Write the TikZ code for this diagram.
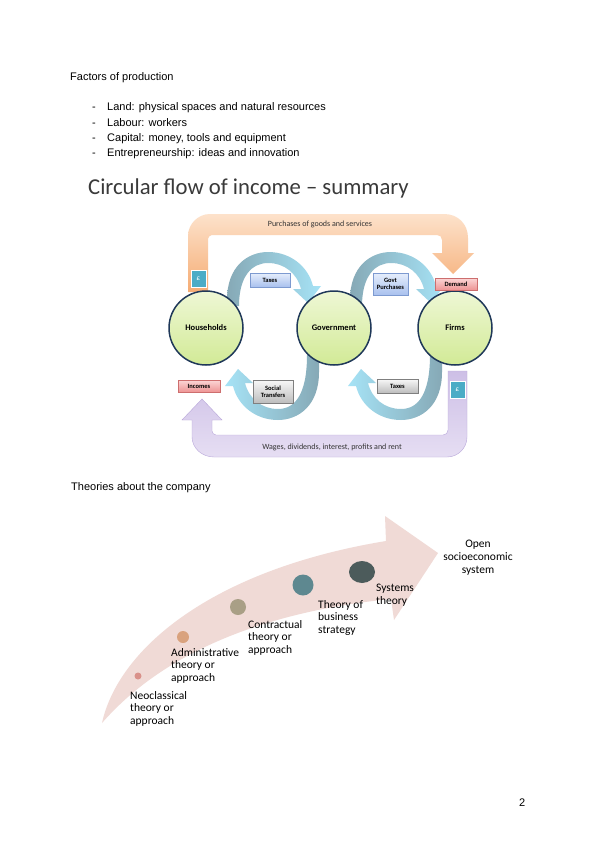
\documentclass[tikz,border=0pt]{standalone}
\usepackage{fontspec}
\setmainfont{Liberation Sans}
\newfontfamily\carl{Carlito}
\usetikzlibrary{shapes.geometric}
\definecolor{navy}{HTML}{1F3859}
\definecolor{circtop}{HTML}{EEF7D5}
\definecolor{circbot}{HTML}{D2EA96}
\definecolor{orangetop}{HTML}{FDE2CB}
\definecolor{orangebot}{HTML}{F5AC74}
\definecolor{purpletop}{HTML}{CDBFE6}
\definecolor{purplebot}{HTML}{E6DEF3}
\definecolor{purpleline}{HTML}{B9A8DA}
\definecolor{arcgray}{HTML}{86A9B6}
\definecolor{arccyan}{HTML}{A6E3F6}
\definecolor{bluetop}{HTML}{E6EEFC}
\definecolor{bluebot}{HTML}{A9C1EE}
\definecolor{blueline}{HTML}{7D9AD0}
\definecolor{pinktop}{HTML}{FBD6D6}
\definecolor{pinkbot}{HTML}{EE9494}
\definecolor{pinkline}{HTML}{CD6E6E}
\definecolor{graytop}{HTML}{F8F8F8}
\definecolor{graybot}{HTML}{BDBDBD}
\definecolor{grayline}{HTML}{7F7F7F}
\definecolor{poundteal}{HTML}{4BACC6}
\definecolor{risearrow}{HTML}{F0DAD6}
\definecolor{dotA}{HTML}{D9918A}
\definecolor{dotB}{HTML}{D9A27E}
\definecolor{dotC}{HTML}{A99F86}
\definecolor{dotD}{HTML}{5E8890}
\definecolor{dotE}{HTML}{4C5B5B}
\definecolor{titlegray}{HTML}{3A3A3A}
\definecolor{labeltext}{HTML}{333333}
\tikzset{
  flowarcup/.pic={\shade[left color=arcgray, right color=arccyan] (227,306) -- (227,300) .. controls (227,266) and (248,252) .. (268,252) .. controls (290,252) and (308,266) .. (313,286) -- (321,286) -- (308,303) -- (293,289) -- (301,289) .. controls (297,273) and (284,263) .. (268,263) .. controls (252,263) and (239,276) .. (239,306) -- cycle;},
  flowarcdown/.pic={\shade[left color=arccyan, right color=arcgray] (319,355) -- (319,372) .. controls (319,406) and (298,420) .. (278,420) .. controls (256,420) and (238,406) .. (233,386) -- (225,386) -- (238,369) -- (253,383) -- (245,383) .. controls (249,399) and (262,409) .. (278,409) .. controls (294,409) and (307,396) .. (307,355) -- cycle;}
}
\begin{document}
\begin{tikzpicture}[x=1pt,y=-1pt,
  doc/.style={font=\fontsize{11}{13}\selectfont, anchor=base west, inner sep=0},
  econ/.style={circle, minimum size=74, inner sep=0, draw=navy, line width=1.5, top color=circtop, bottom color=circbot, font=\carl\bfseries\fontsize{8.5}{10}\selectfont},
  flowtag/.style={line width=0.5, inner sep=0, align=center, font=\carl\bfseries\fontsize{6.5}{7.5}\selectfont},
  bluetag/.style={flowtag, top color=bluetop, bottom color=bluebot, draw=blueline},
  pinktag/.style={flowtag, top color=pinktop, bottom color=pinkbot, draw=pinkline},
  graytag/.style={flowtag, top color=graytop, bottom color=graybot, draw=grayline},
  pound/.style={fill=poundteal, draw=white, line width=0.8, text=white, inner sep=0, minimum width=15, minimum height=17, font=\carl\fontsize{7}{8}\selectfont},
  flowlabel/.style={font=\carl\fontsize{8}{9}\selectfont, text=labeltext, inner sep=0},
  theory/.style={font=\carl\fontsize{11.5}{12.8}\selectfont, align=left, anchor=north west, inner sep=0},
  dot/.style={ellipse, inner sep=0}
]
\fill[white] (0,0) rectangle (600,848);
\useasboundingbox (0,0) rectangle (600,848);

% text block
\node[doc] (fac) at (70,81) {Factors of production};
\node[doc] (b1) at (92,111) {-};
\node[doc] (t1) at (107,111) {Land: physical spaces and natural resources};
\node[doc] (b2) at (92,126) {-};
\node[doc] (t2) at (107,126) {Labour: workers};
\node[doc] (b3) at (92,141) {-};
\node[doc] (t3) at (107,141) {Capital: money, tools and equipment};
\node[doc] (b4) at (92,156) {-};
\node[doc] (t4) at (107,156) {Entrepreneurship: ideas and innovation};

\node[anchor=base west, inner sep=0, font=\carl\fontsize{22.7}{26}\selectfont, text=titlegray] (title) at (88,194) {Circular flow of income – summary};

% orange arrow (purchases)
\shade[top color=orangetop, bottom color=orangebot] (188,292) -- (188,236) .. controls (188,224) and (198,214) .. (210,214) -- (444,214) .. controls (458,214) and (468,224) .. (468,238) -- (468,253) -- (474,253) -- (453,274) -- (432,253) -- (442,253) -- (442,240) .. controls (442,237) and (440,235) .. (437,235) -- (212,235) .. controls (210,235) and (208,237) .. (208,239) -- (208,292) -- cycle;
\node[flowlabel] (purch) at (320,224) {Purchases of goods and services};

% purple arrow (wages)
\shade[top color=purpletop, bottom color=purplebot, draw=purpleline, line width=0.4] (448,371) -- (467,371) -- (467,437) .. controls (467,448) and (458,457) .. (447,457) -- (214,457) .. controls (202,457) and (192,448) .. (192,437) -- (192,420) -- (182,420) -- (202,399) -- (222,420) -- (212,420) -- (212,431) .. controls (212,433) and (214,435) .. (216,435) -- (443,435) .. controls (446,435) and (448,433) .. (448,430) -- cycle;
\node[flowlabel] (wages) at (332,447) {Wages, dividends, interest, profits and rent};

% curved arrows
\pic {flowarcup};
\begin{scope}[shift={(123,0)}]
  \pic {flowarcup};
\end{scope}
\pic {flowarcdown};
\begin{scope}[shift={(123,0)}]
  \pic {flowarcdown};
\end{scope}

% circles
\node[econ] (hh) at (206,328) {Households};
\node[econ] (gov) at (334,328) {Government};
\node[econ] (firms) at (455,328) {Firms};

% tags
\node[bluetag, minimum width=40, minimum height=14] (taxtop) at (270,280) {Taxes};
\node[bluetag, minimum width=35, minimum height=22] (govp) at (390.5,284) {Govt\\Purchases};
\node[pinktag, minimum width=42, minimum height=12] (demand) at (456,284) {Demand};
\node[pinktag, minimum width=42, minimum height=12] (incomes) at (199,386) {Incomes};
\node[graytag, minimum width=40, minimum height=23] (social) at (273,391.5) {Social\\Transfers};
\node[graytag, minimum width=41, minimum height=14] (taxbot) at (397.5,386) {Taxes};
\node[pound] (poundL) at (198.5,278.5) {£};
\node[pound] (poundR) at (457.5,390) {£};

% theories
\node[doc] (theo) at (71,490) {Theories about the company};
\begin{scope}
\clip (0,460) rectangle (600,728);
\fill[risearrow] (102,723) .. controls (118,650) and (210,570) .. (386,541) -- (385,516) -- (438,553) -- (394,620) -- (391,599) .. controls (280,610) and (170,645) .. (102,723) -- cycle;
\node[dot, fill=dotA, minimum width=7, minimum height=7] (d1) at (138,676) {};
\node[dot, fill=dotB, minimum width=12, minimum height=12] (d2) at (183,637) {};
\node[dot, fill=dotC, minimum width=16, minimum height=16] (d3) at (238,607) {};
\node[dot, fill=dotD, minimum width=21, minimum height=21] (d4) at (303,585) {};
\node[dot, fill=dotE, minimum width=26, minimum height=22] (d5) at (362,572) {};
\node[theory] (neo) at (130,691) {Neoclassical\\theory or\\approach};
\node[theory] (adm) at (171,648) {Administrative\\theory or\\approach};
\node[theory] (con) at (248,620) {Contractual\\theory or\\approach};
\node[theory] (bus) at (318,600) {Theory of\\business\\strategy};
\node[theory] (sys) at (376,584) {Systems\\theory};
\node[theory, anchor=north, align=center] (open) at (478,540) {Open\\socioeconomic\\system};
\end{scope}

\node[doc] (page) at (519,806) {2};
\end{tikzpicture}
\end{document}
